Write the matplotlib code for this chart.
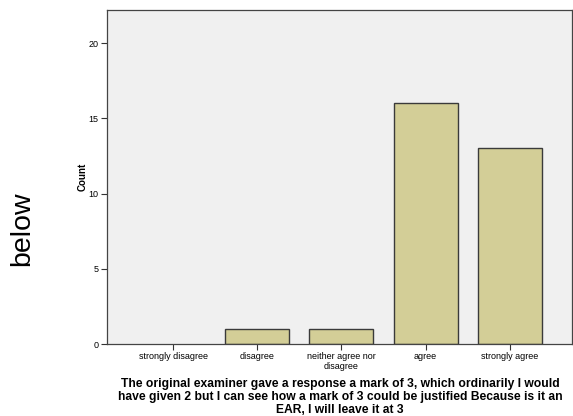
import matplotlib.pyplot as plt

plt.rcParams['font.family'] = ['Liberation Sans', 'DejaVu Sans']

# Response categories and counts
categories = ['strongly disagree', 'disagree', 'neither agree nor\ndisagree',
              'agree', 'strongly agree']
counts = [0, 1, 1, 16, 13]
y_ticks = [0, 5, 10, 15, 20]

title = ('The original examiner gave a response a mark of 3, which ordinarily I would\n'
         'have given 2 but I can see how a mark of 3 could be justified Because is it an\n'
         'EAR, I will leave it at 3')

fig = plt.figure(figsize=(5.73, 4.16), dpi=100)
ax = fig.add_axes([107 / 573, 1 - 344 / 416, 465 / 573, 334 / 416])
ax.set_facecolor('#F0F0F0')

x = range(len(categories))
bars = ax.bar(x, counts, width=0.76, color='#D3CE97', edgecolor='#3A3A3A', linewidth=1.0)
# empty categories show no outline
for b, c in zip(bars, counts):
    if c == 0:
        b.set_linewidth(0)

ax.set_xlim(-0.786, 4.74)
ax.set_ylim(0, 22.2)
ax.set_xticks(list(x))
ax.set_xticklabels(categories, fontsize=6.5, linespacing=1.05)
ax.set_yticks(y_ticks)
ax.set_yticklabels([str(v) for v in y_ticks], fontsize=6.5)
ax.tick_params(axis='both', direction='out', length=4, width=0.8, colors='#333333',
               labelcolor='black', pad=2)

for s in ax.spines.values():
    s.set_color('#444444')
    s.set_linewidth(0.9)

ax.set_ylabel('Count', fontsize=7, fontweight='bold', labelpad=1)

# axis title under the category labels
fig.text(340 / 573, 1 - 378 / 416, title, fontsize=8.7, fontweight='bold',
         ha='center', va='top', multialignment='center', linespacing=1.1)

fig.text(22 / 573, 1 - 229 / 416, 'below', rotation=90, fontsize=20.5,
         ha='center', va='center')

fig.savefig('out.png', dpi=100)
